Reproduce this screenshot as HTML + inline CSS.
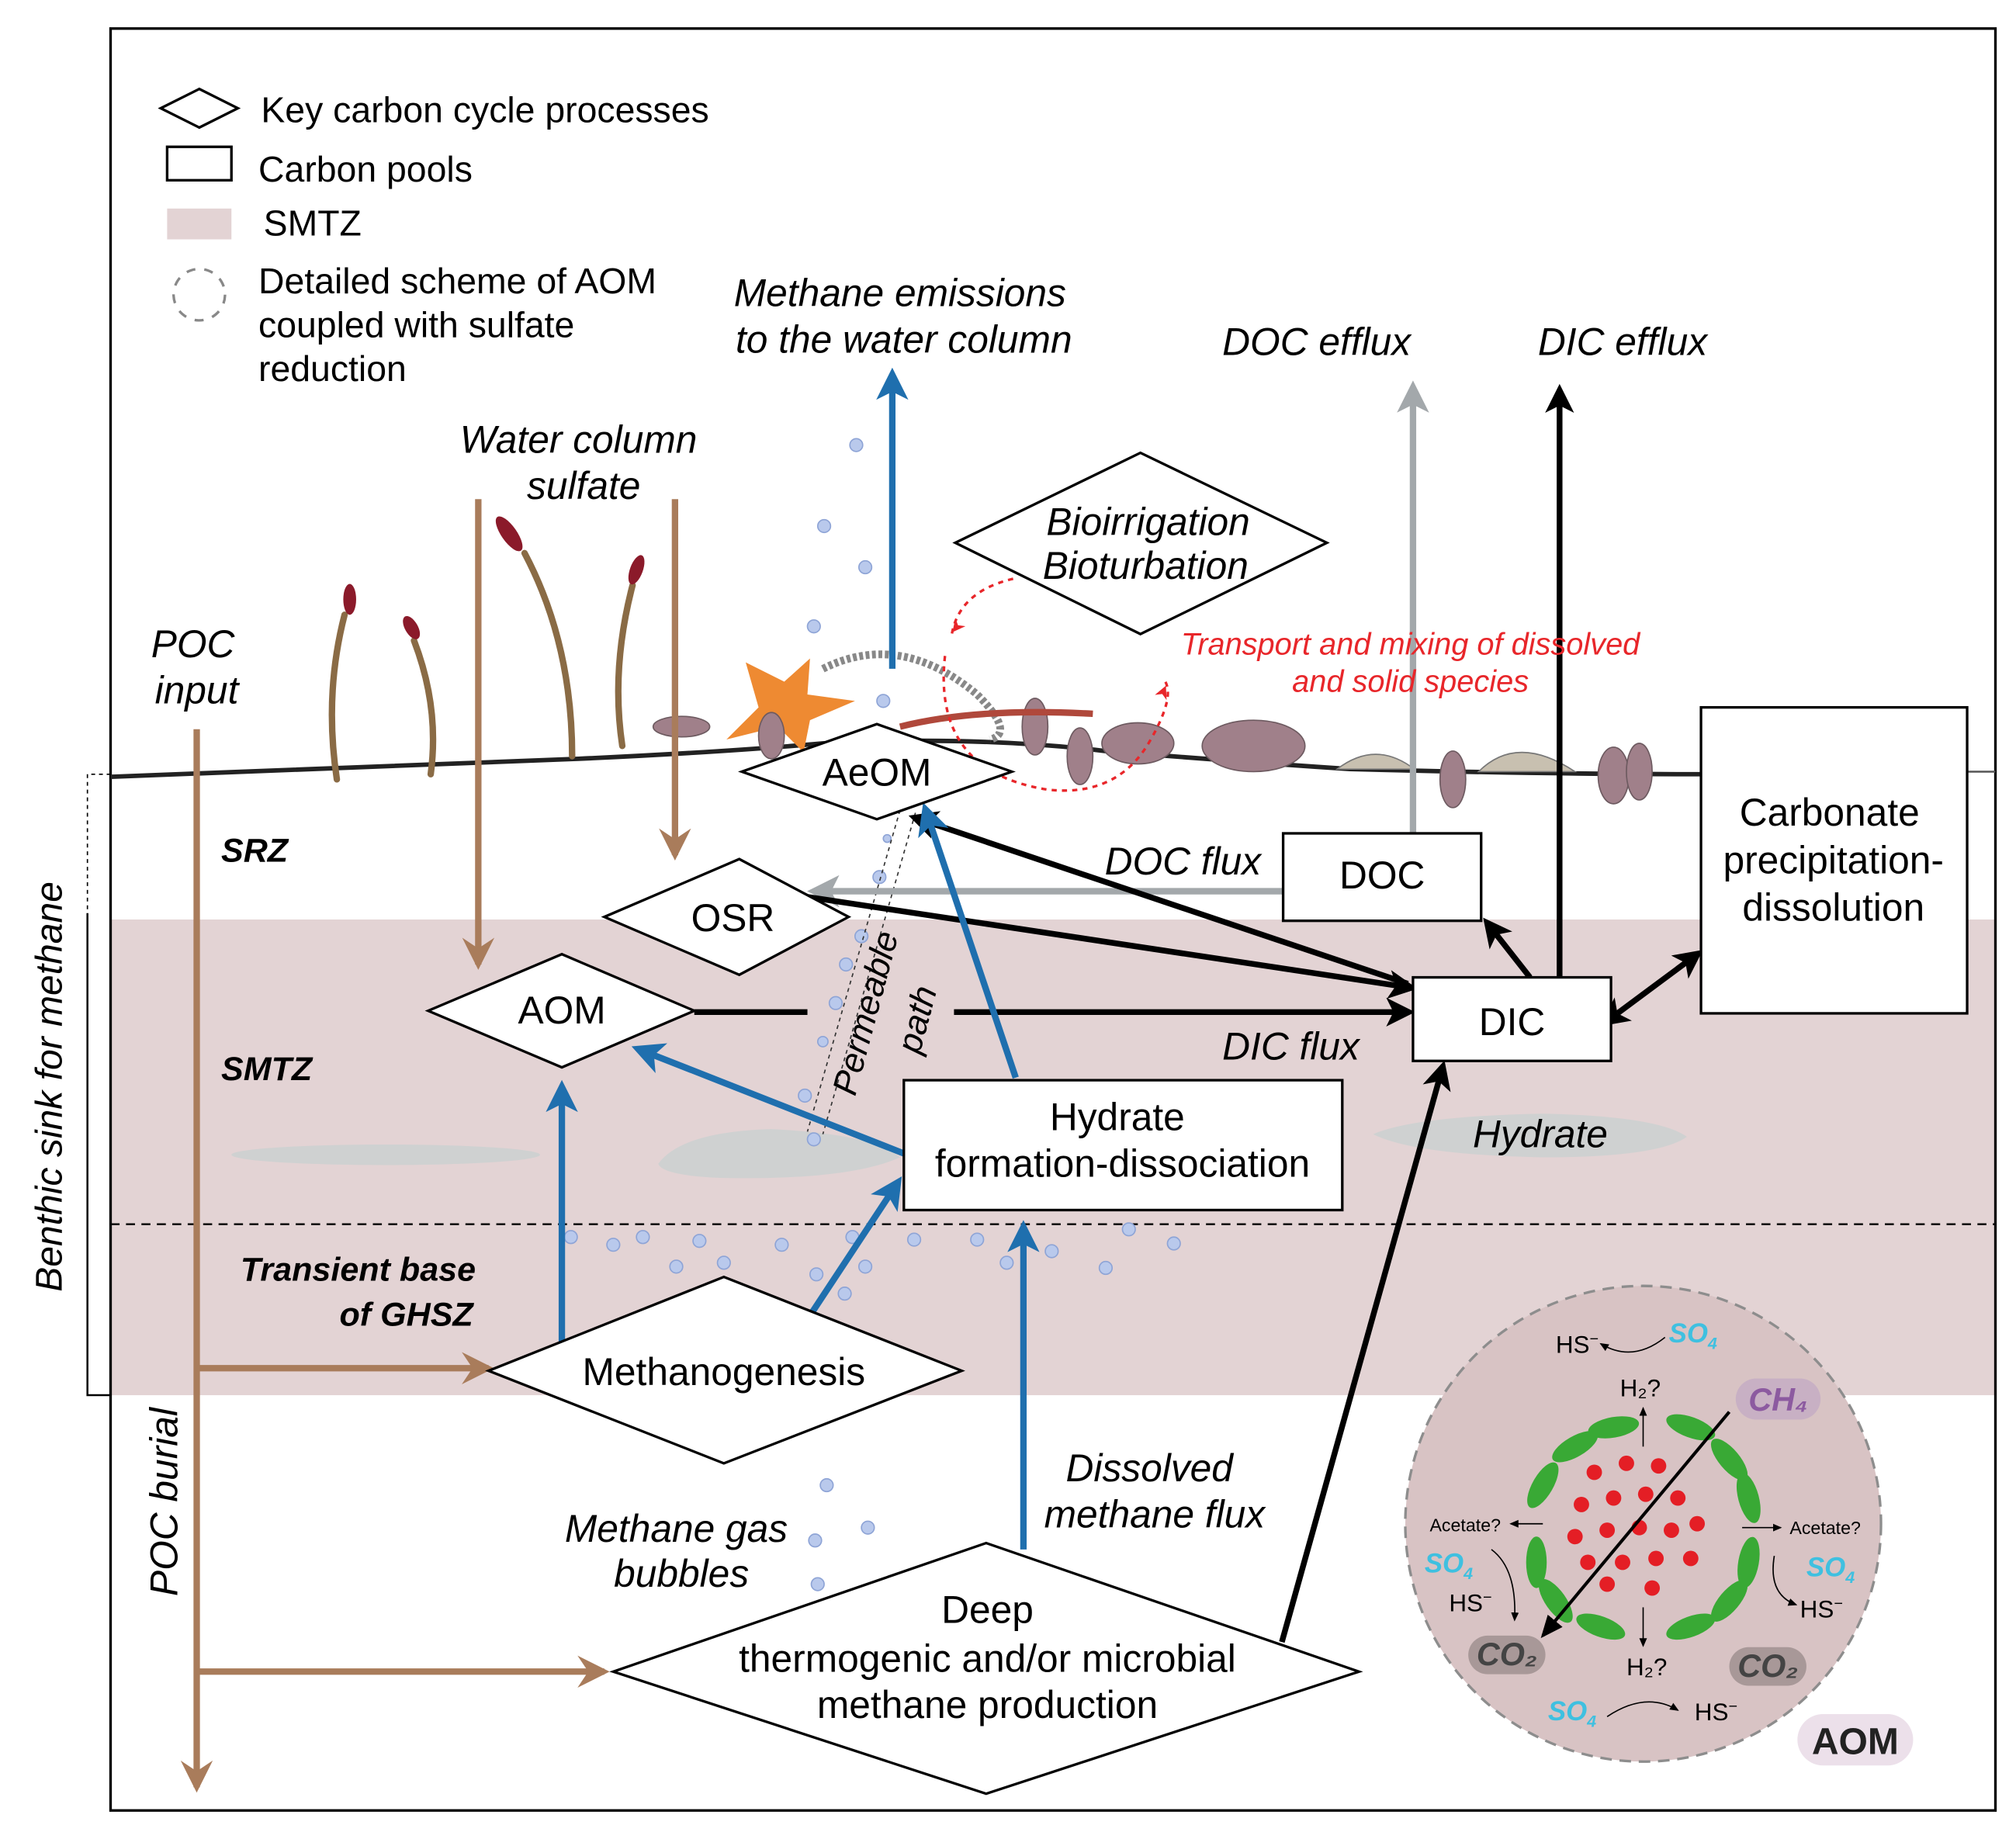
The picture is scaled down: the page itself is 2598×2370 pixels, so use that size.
<!DOCTYPE html>
<html><head><meta charset="utf-8"><style>
html,body{margin:0;padding:0;background:#fff}
svg{display:block}
text{font-family:"Liberation Sans",sans-serif}
</style></head><body>
<svg width="2598" height="2370" viewBox="0 0 1568 1430" xmlns="http://www.w3.org/2000/svg">
<defs>
<marker id="ab" viewBox="0 0 8 8" markerWidth="5" markerHeight="5" refX="6" refY="4" orient="auto" markerUnits="strokeWidth"><path d="M0,0 L8,4 L0,8 L2,4z" fill="#000"/></marker>
<marker id="abs" viewBox="0 0 8 8" markerWidth="5" markerHeight="5" refX="2" refY="4" orient="auto-start-reverse" markerUnits="strokeWidth"><path d="M0,0 L8,4 L0,8 L2,4z" fill="#000"/></marker>
<marker id="au" viewBox="0 0 8 8" markerWidth="5" markerHeight="5" refX="6" refY="4" orient="auto" markerUnits="strokeWidth"><path d="M0,0 L8,4 L0,8 L2,4z" fill="#1f6fae"/></marker>
<marker id="ag" viewBox="0 0 8 8" markerWidth="5" markerHeight="5" refX="6" refY="4" orient="auto" markerUnits="strokeWidth"><path d="M0,0 L8,4 L0,8 L2,4z" fill="#a3a8ab"/></marker>
<marker id="ar" viewBox="0 0 6 6" markerWidth="5" markerHeight="5" refX="5" refY="3" orient="auto" markerUnits="strokeWidth"><path d="M0,0 L6,3 L0,6 L2,3z" fill="#a97c5b"/></marker>
<marker id="ared" markerWidth="10" markerHeight="10" refX="8" refY="5" orient="auto" markerUnits="strokeWidth"><path d="M0,0 L10,5 L0,10 L3,5z" fill="#e8262a"/></marker>
<marker id="as" markerWidth="8" markerHeight="8" refX="6" refY="4" orient="auto"><path d="M0,1 L7,4 L0,7z" fill="#000"/></marker>
</defs>
<rect x="86" y="715" width="1466" height="370" fill="#e3d3d4"/>
<rect x="86" y="22" width="1466" height="1386" fill="none" stroke="#000" stroke-width="2"/>
<path d="M86,602 L68,602 L68,710" fill="none" stroke="#000" stroke-width="1" stroke-dasharray="3,3"/>
<path d="M68,710 L68,1085 L86,1085" fill="none" stroke="#000" stroke-width="1.5"/>
<text transform="translate(48,845) rotate(-90)" text-anchor="middle" font-size="29" font-style="italic">Benthic sink for methane</text>
<ellipse cx="300" cy="898" rx="120" ry="8" fill="#cfd1d1"/>
<path d="M512,905 Q530,880 600,878 Q680,882 700,900 Q660,918 560,916 Q515,914 512,905z" fill="#cfd1d1"/>
<path d="M1068,882 Q1100,868 1200,866 Q1290,868 1312,884 Q1290,900 1200,900 Q1100,898 1068,882z" fill="#cfd1d1"/>
<line x1="86" y1="952" x2="1552" y2="952" stroke="#000" stroke-width="1.5" stroke-dasharray="7,5"/>
<path d="M86,604 Q300,596 450,590 Q560,585 640,578 Q760,572 860,584 Q960,592 1050,598 Q1200,602 1323,602" fill="none" stroke="#222" stroke-width="3.5"/>
<line x1="1530" y1="600" x2="1552" y2="600" stroke="#555" stroke-width="1.5"/>
<polygon points="125,84 155,69 185,84 155,99" fill="#fff" stroke="#000" stroke-width="2"/>
<rect x="130" y="114" width="50" height="26" fill="#fff" stroke="#000" stroke-width="2"/>
<rect x="130" y="162" width="50" height="24" fill="#e3d3d4"/>
<circle cx="155" cy="229" r="20" fill="none" stroke="#888" stroke-width="2" stroke-dasharray="7,7"/>
<g font-size="28">
<text x="203" y="95">Key carbon cycle processes</text>
<text x="201" y="141">Carbon pools</text>
<text x="205" y="183">SMTZ</text>
<text x="201" y="228">Detailed scheme of AOM</text>
<text x="201" y="262">coupled with sulfate</text>
<text x="201" y="296">reduction</text>
</g>
<g font-size="30" font-style="italic" text-anchor="middle">
<text x="700" y="238">Methane emissions</text>
<text x="703" y="274">to the water column</text>
<text x="1024" y="276">DOC efflux</text>
<text x="1262" y="276">DIC efflux</text>
<text x="450" y="352">Water column</text>
<text x="454" y="388">sulfate</text>
<text x="150" y="511">POC</text>
<text x="153" y="547">input</text>
<text x="894" y="1152">Dissolved</text>
<text x="898" y="1188">methane flux</text>
<text x="526" y="1199">Methane gas</text>
<text x="530" y="1234">bubbles</text>
<text x="1004" y="824">DIC flux</text>
<text x="920" y="680">DOC flux</text>
<text x="1198" y="892">Hydrate</text>
</g>
<g font-size="26" font-style="italic" font-weight="bold">
<text x="172" y="670">SRZ</text>
<text x="172" y="840">SMTZ</text>
<text x="370" y="996" text-anchor="end">Transient base</text>
<text x="368" y="1031" text-anchor="end">of GHSZ</text>
</g>
<text transform="translate(138,1168) rotate(-90)" text-anchor="middle" font-size="30" font-style="italic">POC burial</text>
<g fill="none" stroke="#8a6b45" stroke-width="5" stroke-linecap="round">
<path d="M262,606 Q252,540 268,478"/>
<path d="M335,602 Q342,550 322,498"/>
<path d="M445,588 Q445,500 408,430"/>
<path d="M484,580 Q475,520 492,455"/>
</g>
<g fill="#8b1a2a">
<ellipse cx="272" cy="466" rx="5" ry="12"/><ellipse cx="320" cy="488" rx="5" ry="10" transform="rotate(-30 320 488)"/>
<ellipse cx="396" cy="415" rx="6" ry="16" transform="rotate(-35 396 415)"/><ellipse cx="495" cy="443" rx="5" ry="12" transform="rotate(20 495 443)"/>
</g>
<path d="M580,515 L610,530 L630,512 L628,540 L665,545 L630,560 L625,585 L605,565 L565,575 L590,550z" fill="#ee8a32"/>
<g fill="#a0808a" stroke="#6d5a60" stroke-width="1">
<ellipse cx="530" cy="565" rx="22" ry="8"/><ellipse cx="600" cy="572" rx="10" ry="18"/>
<ellipse cx="805" cy="565" rx="10" ry="22"/><ellipse cx="840" cy="588" rx="10" ry="22"/>
<ellipse cx="885" cy="578" rx="28" ry="16"/><ellipse cx="975" cy="580" rx="40" ry="20"/>
<ellipse cx="1130" cy="606" rx="10" ry="22"/><ellipse cx="1255" cy="603" rx="12" ry="22"/><ellipse cx="1275" cy="600" rx="10" ry="22"/>
</g>
<g fill="#c8c0b0" stroke="#777" stroke-width="1">
<path d="M1040,598 Q1070,575 1100,598z"/><path d="M1150,600 Q1180,570 1225,600z"/>
</g>
<path d="M640,520 Q700,490 760,540 Q790,570 770,575" fill="none" stroke="#888" stroke-width="6" stroke-dasharray="3,2"/>
<path d="M700,565 Q760,550 850,555" fill="none" stroke="#b0483b" stroke-width="5"/>
<g fill="#b9c9ec" stroke="#8ea4d6" stroke-width="1">
<circle cx="666" cy="346" r="5"/><circle cx="641" cy="409" r="5"/><circle cx="673" cy="441" r="5"/><circle cx="633" cy="487" r="5"/><circle cx="687" cy="545" r="5"/>
<circle cx="684" cy="682" r="5"/><circle cx="670" cy="728" r="5"/><circle cx="658" cy="750" r="5"/><circle cx="650" cy="780" r="5"/><circle cx="640" cy="810" r="4"/><circle cx="626" cy="852" r="5"/><circle cx="633" cy="886" r="5"/><circle cx="690" cy="652" r="3"/>
<circle cx="444" cy="962" r="5"/><circle cx="477" cy="968" r="5"/><circle cx="500" cy="962" r="5"/><circle cx="526" cy="985" r="5"/><circle cx="544" cy="965" r="5"/><circle cx="563" cy="982" r="5"/><circle cx="608" cy="968" r="5"/><circle cx="635" cy="991" r="5"/><circle cx="657" cy="1006" r="5"/><circle cx="663" cy="962" r="5"/><circle cx="673" cy="985" r="5"/><circle cx="711" cy="964" r="5"/><circle cx="760" cy="964" r="5"/><circle cx="783" cy="982" r="5"/><circle cx="818" cy="973" r="5"/><circle cx="860" cy="986" r="5"/><circle cx="878" cy="956" r="5"/><circle cx="913" cy="967" r="5"/>
<circle cx="643" cy="1155" r="5"/><circle cx="675" cy="1188" r="5"/><circle cx="634" cy="1198" r="5"/><circle cx="636" cy="1232" r="5"/>
</g>
<path d="M700,630 L628,880 M712,632 L640,882" stroke="#333" stroke-width="1" stroke-dasharray="3,3" fill="none"/>
<text transform="translate(682,790) rotate(-75)" text-anchor="middle" font-size="27" font-style="italic">Permeable</text>
<text transform="translate(722,795) rotate(-75)" text-anchor="middle" font-size="27" font-style="italic">path</text>
<g stroke="#a97c5b" stroke-width="5" fill="none" marker-end="url(#ar)">
<line x1="153" y1="567" x2="153" y2="1390"/>
<line x1="153" y1="1064" x2="380" y2="1064"/>
<line x1="153" y1="1300" x2="470" y2="1300"/>
<line x1="372" y1="388" x2="372" y2="750"/>
<line x1="525" y1="388" x2="525" y2="665"/>
</g>
<g stroke="#a3a8ab" stroke-width="5" fill="none" marker-end="url(#ag)">
<line x1="1099" y1="648" x2="1099" y2="302"/>
<line x1="998" y1="693" x2="634" y2="693"/>
</g>
<g stroke="#000" stroke-width="4.5" fill="none">
<line x1="1213" y1="760" x2="1213" y2="304" marker-end="url(#ab)"/>
<line x1="540" y1="787" x2="628" y2="787"/>
<line x1="742" y1="787" x2="1095" y2="787" marker-end="url(#ab)"/>
<line x1="1095" y1="765" x2="712" y2="636" marker-end="url(#ab)"/>
<line x1="625" y1="697" x2="1097" y2="768" marker-end="url(#ab)"/>
<line x1="1190" y1="760" x2="1157" y2="718" marker-end="url(#ab)"/>
<line x1="1258" y1="788" x2="1320" y2="742" marker-end="url(#ab)" marker-start="url(#abs)"/>
<line x1="997" y1="1277" x2="1122" y2="830" marker-end="url(#ab)"/>
</g>
<g stroke="#1f6fae" stroke-width="5" fill="none" marker-end="url(#au)">
<line x1="694" y1="520" x2="694" y2="292"/>
<line x1="790" y1="838" x2="720" y2="630"/>
<line x1="703" y1="897" x2="497" y2="816"/>
<line x1="437" y1="1045" x2="437" y2="846"/>
<line x1="632" y1="1020" x2="698" y2="920"/>
<line x1="796" y1="1205" x2="796" y2="955"/>
</g>
<path d="M788,450 Q745,460 740,495 M735,510 Q725,600 815,614 Q870,620 895,575 Q915,540 905,528" fill="none" stroke="#e8262a" stroke-width="2" stroke-dasharray="4,4"/>
<path d="M770,455 L742,490" stroke="none" fill="none" marker-end="url(#ared)"/>
<path d="M895,560 L906,535" stroke="none" fill="none" marker-end="url(#ared)"/>
<text x="1097" y="509" text-anchor="middle" font-size="24" font-style="italic" fill="#e8262a">Transport and mixing of dissolved</text>
<text x="1097" y="538" text-anchor="middle" font-size="24" font-style="italic" fill="#e8262a">and solid species</text>
<g fill="#fff" stroke="#000" stroke-width="2">
<polygon points="743,422 887,352 1032,422 887,493"/>
<polygon points="577,600 682,563 787,600 682,637"/>
<polygon points="470,713 575,668 660,713 575,758"/>
<polygon points="333,786 437,742 540,786 437,830"/>
<polygon points="380,1066 563,993 748,1066 563,1138"/>
<polygon points="477,1300 767,1200 1057,1300 767,1395"/>
<rect x="998" y="648" width="154" height="68"/>
<rect x="1099" y="760" width="154" height="65"/>
<rect x="1323" y="550" width="207" height="238"/>
<rect x="703" y="840" width="341" height="101"/>
</g>
<g font-size="30" text-anchor="middle">
<text x="893" y="416" font-style="italic">Bioirrigation</text>
<text x="891" y="450" font-style="italic">Bioturbation</text>
<text x="682" y="611">AeOM</text>
<text x="570" y="724">OSR</text>
<text x="437" y="796">AOM</text>
<text x="563" y="1077">Methanogenesis</text>
<text x="768" y="1262">Deep</text>
<text x="768" y="1300">thermogenic and/or microbial</text>
<text x="768" y="1336">methane production</text>
<text x="1075" y="691">DOC</text>
<text x="1176" y="805">DIC</text>
<text x="1423" y="642">Carbonate</text>
<text x="1426" y="679">precipitation-</text>
<text x="1426" y="716">dissolution</text>
<text x="869" y="879">Hydrate</text>
<text x="873" y="915">formation-dissociation</text>
</g>
<circle cx="1278" cy="1185" r="185" fill="#d8c3c4" stroke="#8d8d8d" stroke-width="2" stroke-dasharray="9,6"/>
<g fill="#39a935">
<ellipse cx="1200" cy="1155" rx="8" ry="20" transform="rotate(30 1200 1155)"/><ellipse cx="1225" cy="1125" rx="8" ry="20" transform="rotate(60 1225 1125)"/><ellipse cx="1255" cy="1110" rx="8" ry="20" transform="rotate(80 1255 1110)"/>
<ellipse cx="1315" cy="1110" rx="8" ry="20" transform="rotate(-70 1315 1110)"/><ellipse cx="1345" cy="1135" rx="8" ry="20" transform="rotate(-40 1345 1135)"/><ellipse cx="1360" cy="1165" rx="8" ry="20" transform="rotate(-15 1360 1165)"/>
<ellipse cx="1195" cy="1215" rx="8" ry="20"/><ellipse cx="1210" cy="1245" rx="8" ry="20" transform="rotate(-35 1210 1245)"/><ellipse cx="1245" cy="1265" rx="8" ry="20" transform="rotate(-70 1245 1265)"/>
<ellipse cx="1315" cy="1265" rx="8" ry="20" transform="rotate(70 1315 1265)"/><ellipse cx="1345" cy="1245" rx="8" ry="20" transform="rotate(40 1345 1245)"/><ellipse cx="1360" cy="1215" rx="8" ry="20" transform="rotate(10 1360 1215)"/>
</g>
<g fill="#e41e25">
<circle cx="1240" cy="1145" r="6"/><circle cx="1265" cy="1138" r="6"/><circle cx="1290" cy="1140" r="6"/><circle cx="1230" cy="1170" r="6"/><circle cx="1255" cy="1165" r="6"/><circle cx="1280" cy="1162" r="6"/><circle cx="1305" cy="1165" r="6"/><circle cx="1320" cy="1185" r="6"/><circle cx="1225" cy="1195" r="6"/><circle cx="1250" cy="1190" r="6"/><circle cx="1275" cy="1188" r="6"/><circle cx="1300" cy="1190" r="6"/><circle cx="1235" cy="1215" r="6"/><circle cx="1262" cy="1215" r="6"/><circle cx="1288" cy="1212" r="6"/><circle cx="1315" cy="1212" r="6"/><circle cx="1250" cy="1232" r="6"/><circle cx="1285" cy="1235" r="6"/>
</g>
<line x1="1345" y1="1098" x2="1200" y2="1272" stroke="#000" stroke-width="2.5" marker-end="url(#as)"/>
<g stroke="#000" stroke-width="1" fill="none" marker-end="url(#as)">
<line x1="1278" y1="1125" x2="1278" y2="1095"/><line x1="1278" y1="1250" x2="1278" y2="1280"/>
<line x1="1200" y1="1185" x2="1175" y2="1185"/><line x1="1355" y1="1188" x2="1385" y2="1188"/>
<path d="M1295,1040 Q1270,1060 1245,1045"/><path d="M1250,1335 Q1280,1315 1305,1330"/>
<path d="M1160,1205 Q1180,1220 1178,1260"/><path d="M1380,1210 Q1375,1240 1397,1248"/>
</g>
<g font-size="19">
<text x="1210" y="1052">HS<tspan font-size="12" dy="-7">−</tspan></text>
<text x="1260" y="1086">H₂?</text>
<text x="1265" y="1303">H₂?</text>
<text x="1318" y="1338">HS<tspan font-size="12" dy="-7">−</tspan></text>
<text x="1127" y="1253">HS<tspan font-size="12" dy="-7">−</tspan></text>
<text x="1400" y="1258">HS<tspan font-size="12" dy="-7">−</tspan></text>
</g>
<g font-size="14"><text x="1112" y="1191">Acetate?</text><text x="1392" y="1193">Acetate?</text></g>
<g font-size="21" font-weight="bold" font-style="italic" fill="#3fc0e0">
<text x="1298" y="1044">SO<tspan font-size="13" dy="5">4</tspan></text>
<text x="1108" y="1223">SO<tspan font-size="13" dy="5">4</tspan></text>
<text x="1405" y="1226">SO<tspan font-size="13" dy="5">4</tspan></text>
<text x="1204" y="1338">SO<tspan font-size="13" dy="5">4</tspan></text>
</g>
<rect x="1350" y="1072" width="66" height="32" rx="16" fill="#c8b0c4"/>
<text x="1383" y="1097" text-anchor="middle" font-size="25" font-weight="bold" font-style="italic" fill="#8c5aa0">CH₄</text>
<rect x="1142" y="1272" width="60" height="30" rx="15" fill="#a89898"/>
<text x="1172" y="1295" text-anchor="middle" font-size="25" font-weight="bold" font-style="italic" fill="#444">CO₂</text>
<rect x="1345" y="1281" width="60" height="30" rx="15" fill="#a89898"/>
<text x="1375" y="1304" text-anchor="middle" font-size="25" font-weight="bold" font-style="italic" fill="#444">CO₂</text>
<rect x="1398" y="1333" width="90" height="40" rx="20" fill="#ece0ea"/>
<text x="1443" y="1364" text-anchor="middle" font-size="29" font-weight="bold" fill="#222">AOM</text>
</svg>
</body></html>
